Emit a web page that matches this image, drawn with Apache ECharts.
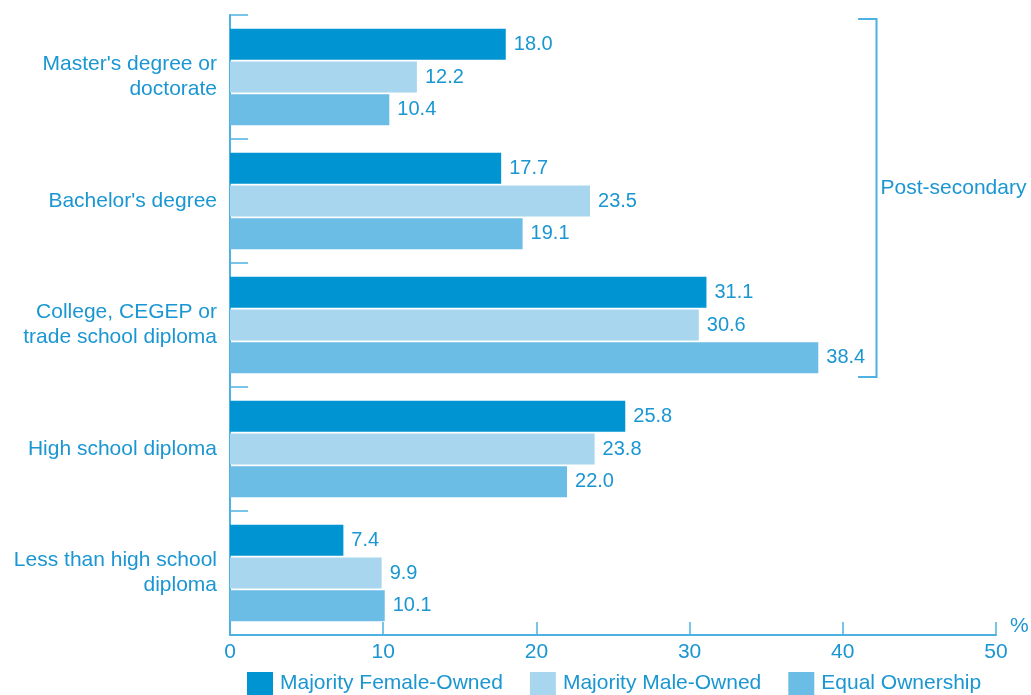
<!DOCTYPE html>
<html><head><meta charset="utf-8">
<script src="https://cdn.jsdelivr.net/npm/echarts@6/dist/echarts.min.js"></script>
<style>html,body{margin:0;padding:0;background:#fff}#c{width:1031px;height:695px}</style>
</head><body><div id="c"></div>
<script>
const categories = ["Master's degree or\ndoctorate", "Bachelor's degree", "College, CEGEP or\ntrade school diploma", "High school diploma", "Less than high school\ndiploma"];
const seriesNames = ["Majority Female-Owned", "Majority Male-Owned", "Equal Ownership"];
const femaleOwned = [18.0, 17.7, 31.1, 25.8, 7.4];
const maleOwned = [12.2, 23.5, 30.6, 23.8, 9.9];
const equalOwned = [10.4, 19.1, 38.4, 22.0, 10.1];
const xTicks = [0, 10, 20, 30, 40, 50];
const bracketLabel = "Post-secondary";

const textColor = '#1a96d2';
const axisColor = '#4db1e2';
const colors = ['#0094d2', '#a8d6ef', '#6cbde6'];
const font = 'Liberation Sans, Arial, sans-serif';

const chart = echarts.init(document.getElementById('c'));
function mk(name, data, color) {
  return {
    name, type: 'bar', data,
    itemStyle: { color },
    barGap: '6%', barCategoryGap: '22%',
    label: { show: true, position: 'right', distance: 8, color: textColor, fontSize: 20, fontFamily: font,
      formatter: p => p.value.toFixed(1) }
  };
}
chart.setOption({
  animation: false,
  textStyle: { fontFamily: font },
  grid: { left: 230, right: 35, top: 15, bottom: 60, containLabel: false },
  legend: {
    left: 247, top: 672, padding: 0, icon: 'rect', itemWidth: 26, itemHeight: 23, itemGap: 27,
    textStyle: { color: textColor, fontSize: 21, fontFamily: font, padding: [5, 0, 0, 2] },
    data: seriesNames
  },
  xAxis: {
    type: 'value', min: xTicks[0], max: xTicks[xTicks.length - 1], interval: 10,
    splitLine: { show: false },
    axisLine: { show: true, lineStyle: { color: axisColor, width: 2 } },
    axisTick: { show: true, inside: true, length: 13, lineStyle: { color: axisColor, width: 1.5 } },
    axisLabel: { color: textColor, fontSize: 21, fontFamily: font, margin: 7 }
  },
  yAxis: {
    type: 'category', data: categories, inverse: true,
    axisLine: { show: true, lineStyle: { color: axisColor, width: 2 } },
    axisTick: { show: true, inside: true, length: 18, lineStyle: { color: axisColor, width: 1.5 } },
    axisLabel: { color: textColor, fontSize: 21, fontFamily: font, margin: 13, align: 'right', lineHeight: 25 }
  },
  series: [mk(seriesNames[0], femaleOwned, colors[0]), mk(seriesNames[1], maleOwned, colors[1]), mk(seriesNames[2], equalOwned, colors[2])]
});

// bracket annotation
const c0 = chart.convertToPixel({ yAxisIndex: 0 }, categories[0]);
const c1 = chart.convertToPixel({ yAxisIndex: 0 }, categories[1]);
const c2 = chart.convertToPixel({ yAxisIndex: 0 }, categories[2]);
const band = c1 - c0;
const yTop = c0 - band / 2 + 4;
const yBot = c2 + band / 2 - 10;
const xL = chart.convertToPixel({ xAxisIndex: 0 }, 41.0);
const xR = chart.convertToPixel({ xAxisIndex: 0 }, 42.2);
const x50 = chart.convertToPixel({ xAxisIndex: 0 }, 50);
const yAxisPix = chart.convertToPixel({ yAxisIndex: 0 }, categories[4]) + band / 2;
chart.setOption({
  graphic: [
    { type: 'polyline', shape: { points: [[xL, yTop], [xR, yTop], [xR, yBot], [xL, yBot]] },
      style: { stroke: axisColor, lineWidth: 2, fill: null } },
    { type: 'text', x: xR + 4, y: c1 - 13, style: { text: bracketLabel, fill: textColor, fontSize: 21, fontFamily: font, verticalAlign: 'middle', align: 'left' } },
    { type: 'text', x: x50 + 14, y: yAxisPix - 9, style: { text: '%', fill: textColor, fontSize: 21, fontFamily: font, verticalAlign: 'middle', align: 'left' } }
  ]
});
</script></body></html>
